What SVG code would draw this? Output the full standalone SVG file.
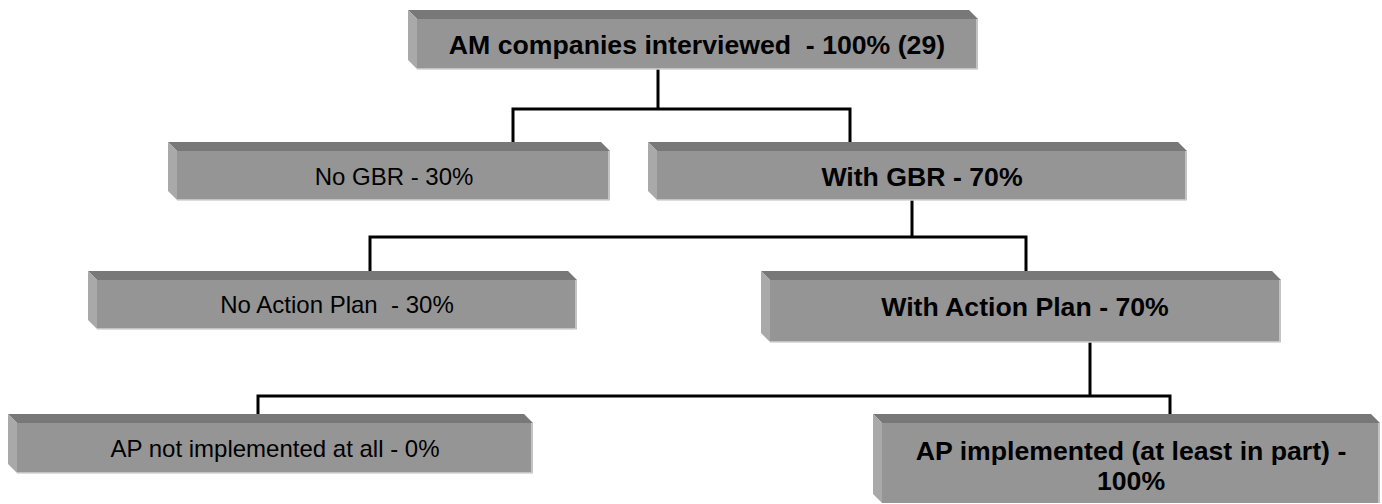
<svg xmlns="http://www.w3.org/2000/svg" width="1382" height="504" viewBox="0 0 1382 504">
<style>
.top{fill:#787878}
.left{fill:#a9a9a9}
.front{fill:#959595}
.edge{fill:none;stroke:#d2d2d2;stroke-width:1.5}
.t{font-family:"Liberation Sans",Arial,sans-serif;fill:#000;text-anchor:middle}
.b{font-weight:bold;font-size:26.67px}
.r{font-size:24px}
.conn{fill:none;stroke:#000;stroke-width:3}
</style>
<rect width="1382" height="504" fill="#fff"/>
<g id="connectors">
<path class="conn" d="M658 69V109M513 142V109H850V142"/>
<path class="conn" d="M912 200V237M370 271V237H1026V271"/>
<path class="conn" d="M1090 342V396M258 414V396H1170V414"/>
</g>
<g id="n1">
<polygon class="top" points="408,10 969,10 978,19 417,19"/>
<polygon class="left" points="408,10 417,19 417,69 408,60"/>
<rect class="front" x="417" y="19" width="561" height="50"/>
<path class="edge" d="M977 19V69H417"/>
<text class="t b" x="697" y="54" xml:space="preserve">AM companies interviewed  - 100% (29)</text>
</g>
<g id="n2">
<polygon class="top" points="168,142 601,142 610,151 177,151"/>
<polygon class="left" points="168,142 177,151 177,200 168,191"/>
<rect class="front" x="177" y="151" width="433" height="49"/>
<path class="edge" d="M609 151V200H177"/>
<text class="t r" x="394" y="185">No GBR - 30%</text>
</g>
<g id="n3">
<polygon class="top" points="648,142 1178,142 1187,151 657,151"/>
<polygon class="left" points="648,142 657,151 657,200 648,191"/>
<rect class="front" x="657" y="151" width="530" height="49"/>
<path class="edge" d="M1186 151V200H657"/>
<text class="t b" x="922" y="186">With GBR - 70%</text>
</g>
<g id="n4">
<polygon class="top" points="88,271 568,271 577,280 97,280"/>
<polygon class="left" points="88,271 97,280 97,329 88,320"/>
<rect class="front" x="97" y="280" width="480" height="49"/>
<path class="edge" d="M576 280V329H97"/>
<text class="t r" x="337" y="313" xml:space="preserve">No Action Plan  - 30%</text>
</g>
<g id="n5">
<polygon class="top" points="761,271 1272,271 1281,280 770,280"/>
<polygon class="left" points="761,271 770,280 770,342 761,333"/>
<rect class="front" x="770" y="280" width="511" height="62"/>
<path class="edge" d="M1280 280V342H770"/>
<text class="t b" x="1025" y="316">With Action Plan - 70%</text>
</g>
<g id="n6">
<polygon class="top" points="8,414 524,414 533,423 17,423"/>
<polygon class="left" points="8,414 17,423 17,473 8,464"/>
<rect class="front" x="17" y="423" width="516" height="50"/>
<path class="edge" d="M532 423V473H17"/>
<text class="t r" x="275" y="457">AP not implemented at all - 0%</text>
</g>
<g id="n7">
<polygon class="top" points="873,414 1371,414 1380,423 882,423"/>
<polygon class="left" points="873,414 882,423 882,503 873,494"/>
<rect class="front" x="882" y="423" width="498" height="80"/>
<path class="edge" d="M1379 423V503"/>
<text class="t b" x="1131" y="460">AP implemented (at least in part) -</text>
<text class="t b" x="1131" y="490">100%</text>
</g>
</svg>
